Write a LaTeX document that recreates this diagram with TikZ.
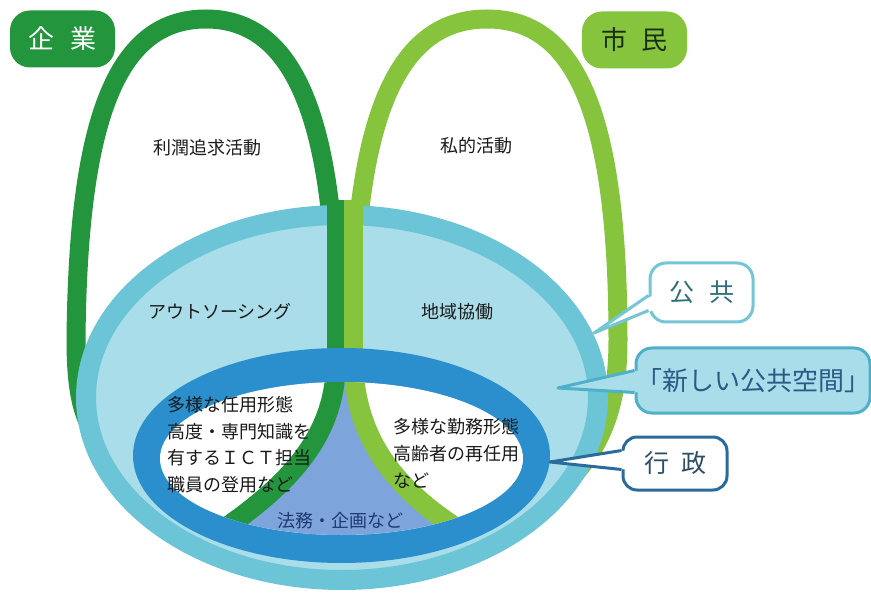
\documentclass[tikz,border=0pt]{standalone}
\usepackage{fontspec}
\setmainfont{Noto Sans CJK JP}
\usetikzlibrary{calc}
\definecolor{dg}{HTML}{23963D}
\definecolor{lg}{HTML}{86C43E}
\definecolor{pubring}{HTML}{6CC5D6}
\definecolor{pubfill}{HTML}{A9DDE9}
\definecolor{govblue}{HTML}{2A8FCC}
\definecolor{legal}{HTML}{7EA5DB}
\definecolor{legaltxt}{HTML}{1F3A70}
\definecolor{txt}{HTML}{1A1A1A}
\definecolor{shimintxt}{HTML}{1B2E12}
\definecolor{pubborder}{HTML}{74C6D6}
\definecolor{pubtxt}{HTML}{2E6F7D}
\definecolor{newborder}{HTML}{4FB0C9}
\definecolor{newtxt}{HTML}{2A5A86}
\definecolor{govborder}{HTML}{2B6A9C}
\definecolor{govtxt}{HTML}{2C4D66}
\begin{document}
\begin{tikzpicture}[x=1pt,y=-1pt,
  body/.style={font=\fontsize{18}{20}\selectfont, text=txt, inner sep=0pt},
  labelbox/.style={rounded corners=20pt, minimum width=105pt, minimum height=57pt, inner sep=0pt, font=\fontsize{26}{28}\selectfont},
  callout/.style={rounded corners=16pt, line width=3pt, inner sep=0pt, font=\fontsize{25}{27}\selectfont},
  tipline/.style={line width=3pt, line join=round}
]
\useasboundingbox (0,0) rectangle (871,596);

% green loops
\draw[dg, line width=19pt] (110,450) .. controls (85,430) and (76,400) .. (76,340)
  .. controls (78,110) and (120,19) .. (206,19)
  .. controls (290,19) and (336,110) .. (336,330) -- (336,372);
\draw[lg, line width=19pt] (353,372) -- (353,330)
  .. controls (355,110) and (400,19) .. (487,19)
  .. controls (574,19) and (618,110) .. (618,340)
  .. controls (618,410) and (600,450) .. (560,490);

% public (outer) ellipse
\draw[pubring, fill=pubfill, line width=20pt] (342,397.5) ellipse [x radius=256pt, y radius=182.5pt];

% middle greens over the public area
\draw[dg, line width=19pt] (336,200) -- (336,375);
\draw[lg, line width=19pt] (353,200) -- (353,375);

% administration ellipse
\fill[govblue] (341.5,455.5) ellipse [x radius=208.5pt, y radius=107.5pt];
\fill[white] (341.5,458.5) ellipse [x radius=181.5pt, y radius=76.5pt];
\begin{scope}
  \clip (341.5,458.5) ellipse [x radius=181.5pt, y radius=76.5pt];
  \fill[legal] (336,360) .. controls (336,440) and (285,490) .. (200,545) -- (490,560) -- (485,545)
    .. controls (395,495) and (355,440) .. (353,360) -- cycle;
  \draw[dg, line width=20pt] (336,360) .. controls (336,440) and (285,490) .. (200,545);
  \draw[lg, line width=20pt] (353,360) .. controls (355,440) and (395,495) .. (485,545);
\end{scope}

% texts
\node[body] (rijun) at (207,148) {利潤追求活動};
\node[body] (shiteki) at (476,146) {私的活動};
\node[body] (outs) at (220,312) {アウトソーシング};
\node[body] (chiiki) at (457,312) {地域協働};
\node[body, anchor=west] (l1) at (167,405) {多様な任用形態};
\node[body, anchor=west] (l2) at (167,432) {高度・専門知識を};
\node[body, anchor=west] (l3) at (167,458) {有するＩＣＴ担当};
\node[body, anchor=west] (l4) at (167,485) {職員の登用など};
\node[body, anchor=west] (r1) at (393,427) {多様な勤務形態};
\node[body, anchor=west] (r2) at (393,454) {高齢者の再任用};
\node[body, anchor=west] (r3) at (393,481) {など};
\node[body, text=legaltxt] (homu) at (340,521) {法務・企画など};

% corner labels
\node[labelbox, fill=dg, text=white] (kigyo) at (62.5,39) {企\hspace{17pt}業};
\node[labelbox, fill=lg, text=shimintxt] (shimin) at (634.5,40) {市\hspace{15pt}民};

% callouts
\node[callout, draw=pubborder, fill=white, text=pubtxt, minimum width=103pt, minimum height=59pt] (kokyo) at (701.5,292.5) {公\hspace{15pt}共};
\coordinate (kt) at (594,333);
\fill[white] (kt) -- ($(kokyo.west)+(4,3)$) -- ($(kokyo.west)+(4,18)$) -- cycle;
\draw[pubborder, tipline] ($(kokyo.west)+(0,3)$) -- (kt) -- ($(kokyo.west)+(0,18)$);

\node[callout, draw=newborder, fill=pubfill, text=newtxt, minimum width=222pt, minimum height=65pt, font=\fontsize{26}{28}\selectfont] (newpub) at (753,380.5) {「新しい公共空間」};
\coordinate (nt) at (558,388);
\fill[pubfill] (nt) -- ($(newpub.west)+(4,-10)$) -- ($(newpub.west)+(4,12)$) -- cycle;
\draw[newborder, tipline] ($(newpub.west)+(0,-10)$) -- (nt) -- ($(newpub.west)+(0,12)$);

\node[callout, draw=govborder, fill=white, text=govtxt, minimum width=104pt, minimum height=53pt, rounded corners=14pt] (gyosei) at (675,463.5) {行\hspace{12pt}政};
\coordinate (gt) at (550,462);
\fill[white] (gt) -- ($(gyosei.west)+(4,-13)$) -- ($(gyosei.west)+(4,6)$) -- cycle;
\draw[govborder, tipline] ($(gyosei.west)+(0,-13)$) -- (gt) -- ($(gyosei.west)+(0,6)$);
\end{tikzpicture}
\end{document}
